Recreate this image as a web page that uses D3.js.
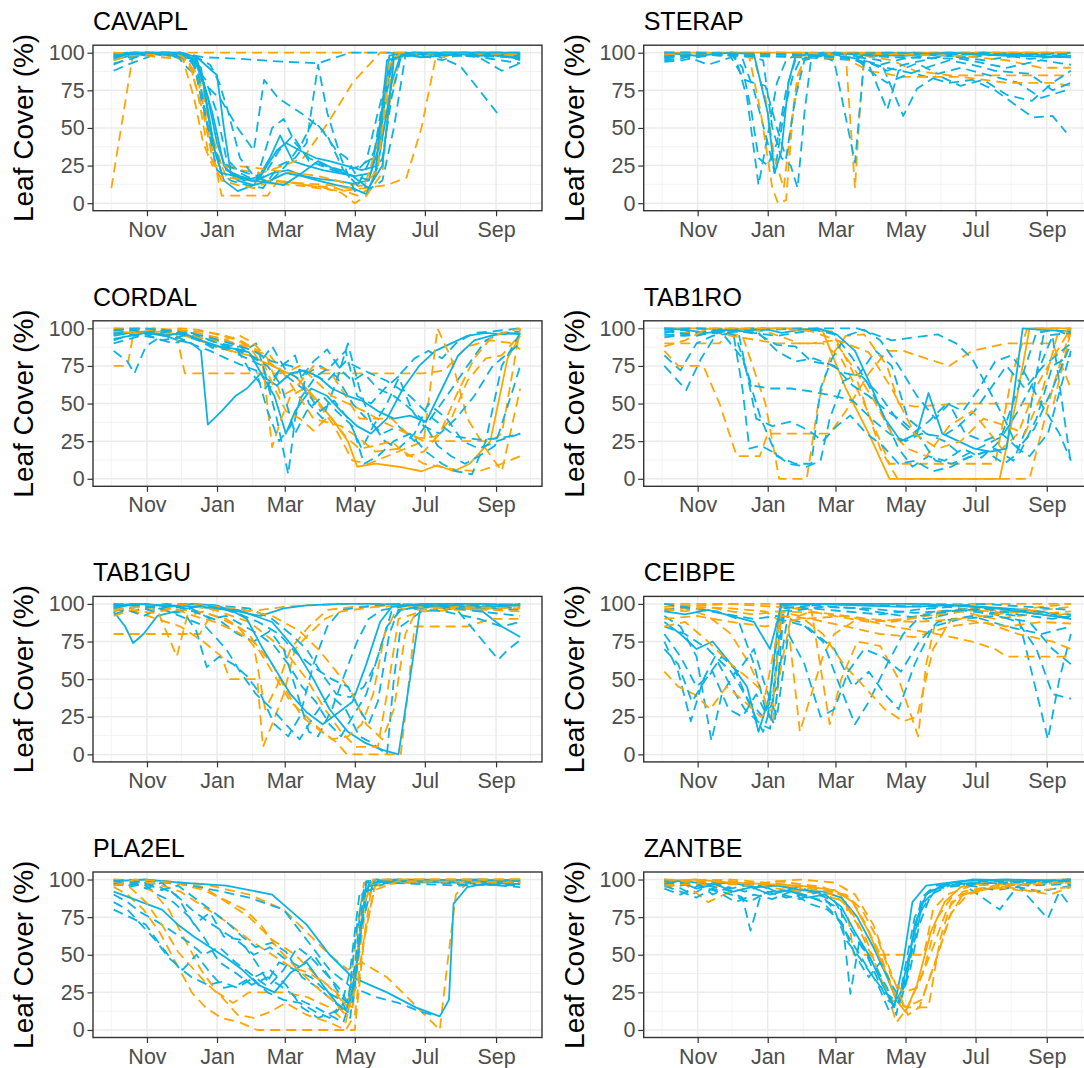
<!DOCTYPE html>
<meta charset="utf-8">
<style>
  body { margin: 0; background: #ffffff; }
  text { font-family: "Liberation Sans", Arial, Helvetica, sans-serif; }
  .title { font-size: 25px; fill: #000; }
  .ylab { font-size: 28px; fill: #000; }
  .tick text { font-size: 21.5px; fill: #4d4d4d; }
  .tick line { stroke: #333333; stroke-width: 1.2; }
  .grid-major { stroke: #ebebeb; stroke-width: 1.5; }
  .grid-minor { stroke: #f2f2f2; stroke-width: 0.9; }
  .border { fill: none; stroke: #333333; stroke-width: 1.4; }
  .leaf { fill: none; stroke-width: 1.8; stroke-linejoin: round; }
</style>
<body>
<script src="https://d3js.org/d3.v7.min.js"></script>
<script>
// day 0 = 1 Oct; each series: group (colour), line type, [day, leaf cover %]
var S = function(g, lt, pts) { return {g: g, lt: lt, pts: pts}; };

var species = ["CAVAPL", "STERAP", "CORDAL", "TAB1RO", "TAB1GU", "CEIBPE", "PLA2EL", "ZANTBE"];
var majorTicks = ["2018-11-01", "2019-01-01", "2019-03-01", "2019-05-01", "2019-07-01", "2019-09-01"];
var minorTicks = ["2018-10-01", "2018-12-01", "2019-02-01", "2019-04-01", "2019-06-01", "2019-08-01", "2019-10-01"];
var yTicks = [0, 25, 50, 75, 100];
var yMinor = [12.5, 37.5, 62.5, 87.5];

var cavapl = [
  S("A","solid",[[2,97],[16,100],[30,99],[45,100],[60,98],[74,95],[84,70],[92,40],[100,22],[112,18],[126,15],[140,20],[154,22],[168,18],[182,16],[196,15],[210,13],[224,15],[234,40],[242,98],[256,100],[280,99],[308,100],[336,98],[356,97]]),
  S("B","dash",[[0,10],[19,100],[60,100],[100,100],[160,100],[220,100],[268,100],[300,100],[356,100]]),
  S("A","solid",[[2,95],[16,98],[30,100],[45,98],[60,100],[74,97],[88,60],[98,25],[110,15],[124,12],[138,30],[147,45],[158,28],[170,25],[184,22],[198,20],[212,18],[226,20],[238,70],[246,100],[262,99],[290,100],[320,98],[356,99]]),
  S("B","dash",[[2,96],[16,99],[30,100],[50,98],[66,95],[76,80],[84,50],[92,20],[96,5],[110,5],[124,5],[136,5],[145,15],[170,12],[196,10],[214,5],[226,10],[240,60],[252,98],[270,100],[320,99],[356,100]]),
  S("A","dash",[[2,88],[14,92],[28,96],[42,100],[56,97],[70,94],[82,82],[92,60],[100,30],[112,20],[126,15],[140,50],[150,56],[160,40],[172,30],[186,25],[200,22],[214,24],[228,30],[240,85],[250,100],[270,97],[300,100],[330,96],[356,93]]),
  S("B","dash",[[2,98],[18,100],[40,97],[62,96],[72,70],[80,40],[88,25],[100,25],[120,24],[140,22],[160,20],[180,18],[196,15],[210,12],[222,15],[236,50],[246,97],[270,100],[356,99]]),
  S("A","dash",[[2,99],[20,100],[60,100],[80,97],[110,96],[150,94],[180,93],[208,100],[240,100],[300,99],[356,98]]),
  S("B","dash",[[2,99],[30,100],[60,99],[76,85],[86,50],[96,25],[112,22],[130,20],[150,25],[167,30],[190,55],[210,80],[234,100],[270,100],[356,99]]),
  S("A","dash",[[2,92],[16,97],[30,100],[56,99],[66,90],[74,85],[96,68],[110,50],[124,35],[133,82],[145,70],[165,60],[182,50],[196,35],[205,30],[212,20],[222,28],[232,60],[244,95],[256,100],[300,98],[356,97]]),
  S("B","dash",[[2,97],[20,100],[50,99],[70,96],[80,75],[90,35],[100,18],[120,15],[140,13],[160,12],[180,10],[200,8],[220,10],[240,12],[257,17],[270,50],[282,95],[300,100],[356,98]]),
  S("A","dash",[[2,100],[20,98],[44,100],[66,99],[76,85],[84,50],[92,22],[104,15],[118,12],[132,10],[146,25],[160,30],[170,40],[180,92],[188,60],[200,30],[212,8],[220,20],[232,40],[246,100],[280,99],[304,91],[337,59]]),
  S("A","solid",[[2,99],[14,100],[30,98],[50,100],[66,98],[78,90],[90,35],[98,15],[110,8],[124,12],[138,15],[152,20],[166,18],[180,15],[196,12],[210,10],[222,6],[230,20],[240,95],[256,98],[290,100],[340,100],[356,99]]),
  S("B","dash",[[2,95],[16,98],[40,99],[60,97],[70,88],[80,60],[88,30],[96,15],[110,12],[124,10],[140,15],[156,14],[170,12],[186,10],[200,7],[212,0],[222,5],[236,20],[246,95],[260,99],[300,100],[356,100]]),
  S("A","solid",[[2,96],[16,100],[36,100],[60,97],[76,96],[92,85],[98,50],[104,20],[116,15],[130,18],[144,35],[152,40],[164,35],[178,30],[190,28],[204,25],[218,22],[232,25],[244,80],[252,99],[270,97],[320,100],[356,96]]),
  S("A","dash",[[2,93],[14,95],[28,99],[44,100],[58,98],[72,93],[78,70],[86,45],[94,28],[104,24],[118,20],[132,17],[146,35],[158,45],[172,28],[186,24],[200,20],[212,18],[226,15],[236,30],[244,70],[252,97],[266,99],[288,95],[300,98],[330,100],[356,95]]),
  S("B","dash",[[2,100],[30,99],[56,100],[68,94],[76,70],[84,35],[94,18],[110,16],[130,15],[150,14],[170,13],[190,12],[206,10],[220,12],[232,22],[242,92],[252,100],[300,100],[356,99]]),
  S("A","dash",[[2,98],[20,100],[50,100],[70,99],[86,92],[94,80],[102,60],[112,30],[124,18],[138,14],[152,25],[166,40],[176,55],[188,45],[202,22],[214,12],[226,10],[236,15],[246,50],[256,98],[280,100],[320,97],[340,88],[356,93]]),
  S("A","solid",[[2,97],[16,99],[40,100],[60,100],[72,96],[80,80],[88,40],[96,20],[108,18],[122,15],[136,14],[150,12],[166,20],[180,28],[196,22],[210,18],[224,10],[236,25],[246,96],[262,100],[300,100],[356,100]])
];

var sterap = [
  S("B","solid",[[2,100],[60,100],[120,100],[200,100],[280,100],[356,100]]),
  S("A","dash",[[2,95],[16,96],[30,99],[50,100],[64,97],[74,70],[84,12],[92,45],[100,80],[108,95],[120,100],[150,99],[180,97],[200,100],[240,98],[280,100],[320,99],[356,100]]),
  S("A","dash",[[2,94],[18,95],[36,98],[56,100],[70,96],[80,75],[92,40],[98,20],[106,60],[114,85],[122,98],[140,100],[170,96],[190,92],[210,96],[240,99],[280,95],[310,98],[356,97]]),
  S("B","dash",[[2,100],[30,99],[60,100],[76,97],[86,60],[96,10],[101,0],[108,2],[114,60],[122,95],[140,100],[200,100],[260,100],[356,100]]),
  S("A","dash",[[2,99],[20,100],[50,98],[70,99],[88,95],[96,50],[104,30],[112,25],[118,10],[124,60],[130,97],[150,100],[180,98],[220,100],[260,97],[300,99],[356,98]]),
  S("B","dash",[[2,98],[30,100],[64,99],[80,96],[90,70],[98,30],[106,10],[112,50],[118,85],[126,99],[160,100],[200,99],[240,100],[300,100],[356,100]]),
  S("A","solid",[[2,100],[30,98],[60,100],[80,99],[92,60],[98,20],[104,35],[110,80],[116,97],[130,100],[170,99],[210,98],[250,100],[300,98],[356,97]]),
  S("B","dash",[[2,100],[40,100],[80,99],[100,100],[140,99],[160,98],[168,10],[172,60],[176,98],[200,95],[220,88],[250,85],[290,85],[320,85],[356,85]]),
  S("A","dash",[[2,98],[30,97],[60,100],[100,99],[140,98],[150,94],[168,27],[176,95],[196,88],[210,92],[240,97],[280,100],[320,96],[356,98]]),
  S("A","dash",[[2,97],[30,100],[60,98],[120,97],[170,95],[196,90],[220,86],[250,80],[270,82],[290,75],[323,57],[340,58],[352,47]]),
  S("A","dash",[[2,99],[30,98],[100,100],[160,97],[180,92],[196,62],[206,88],[222,93],[240,86],[260,90],[290,84],[310,80],[330,70],[356,76]]),
  S("A","dash",[[2,100],[40,99],[100,98],[170,97],[190,95],[210,58],[222,76],[240,85],[260,78],[280,82],[300,72],[322,68],[340,80],[356,88]]),
  S("B","dash",[[2,100],[60,100],[120,98],[160,96],[180,88],[210,84],[260,84],[300,80],[340,80],[356,78]]),
  S("B","dash",[[2,99],[60,100],[120,100],[200,99],[260,98],[300,95],[330,90],[356,90]]),
  S("A","dash",[[2,96],[20,98],[40,92],[60,97],[72,82],[80,80],[90,78],[100,50],[108,30],[116,70],[124,95],[150,100],[200,97],[260,96],[300,90],[330,95],[356,92]]),
  S("A","dash",[[2,100],[30,100],[60,99],[70,90],[78,60],[84,30],[92,25],[100,40],[108,75],[116,95],[140,99],[200,100],[260,99],[356,99]]),
  S("A","dash",[[2,97],[40,100],[100,99],[150,97],[170,95],[186,85],[196,80],[212,85],[230,90],[250,95],[270,92],[290,88],[320,86],[340,75],[356,80]])
];

var cordal = [
  S("A","solid",[[2,95],[16,97],[30,98],[44,96],[58,92],[70,90],[78,85],[84,36],[96,45],[108,55],[118,60],[130,70],[142,55],[152,30],[160,45],[174,60],[188,55],[200,45],[214,35],[226,30],[240,40],[254,60],[268,75],[282,85],[296,90],[310,95],[326,97],[340,96],[356,97]]),
  S("B","dash",[[2,75],[14,75],[20,100],[40,99],[56,98],[64,70],[100,70],[140,70],[180,70],[220,70],[271,70],[290,72],[310,88],[330,92],[350,90],[356,86]]),
  S("A","dash",[[2,85],[14,78],[20,70],[30,88],[44,95],[60,97],[76,93],[90,88],[104,85],[118,80],[132,75],[144,40],[154,3],[160,40],[170,70],[182,75],[196,68],[210,50],[222,40],[236,30],[250,35],[264,25],[278,40],[292,55],[310,75],[326,92],[340,97],[356,98]]),
  S("B","dash",[[2,99],[20,100],[40,98],[60,100],[76,99],[92,96],[106,93],[120,88],[132,75],[140,21],[148,40],[156,55],[168,60],[180,50],[194,35],[210,12],[224,10],[240,15],[256,20],[272,25],[284,100],[296,80],[310,40],[326,20],[340,5],[356,60]]),
  S("B","solid",[[2,98],[20,97],[44,98],[64,95],[84,90],[104,85],[120,82],[140,75],[160,68],[176,55],[192,40],[206,25],[214,8],[230,10],[250,8],[270,5],[284,9],[298,5],[312,10],[330,25],[345,80],[356,95]]),
  S("A","dash",[[2,92],[18,96],[36,94],[54,90],[72,94],[88,87],[102,88],[114,84],[126,90],[138,60],[148,75],[160,82],[172,50],[184,40],[196,65],[206,90],[216,60],[226,38],[238,25],[250,20],[264,30],[276,50],[292,40],[306,25],[320,20],[336,25],[356,30]]),
  S("A","dash",[[2,98],[16,100],[30,97],[46,99],[62,96],[78,94],[94,90],[108,88],[122,70],[134,60],[146,72],[158,65],[170,58],[182,45],[194,52],[206,40],[218,20],[228,35],[240,50],[252,70],[264,80],[276,85],[288,80],[300,90],[316,97],[332,98],[356,100]]),
  S("B","dash",[[2,100],[20,99],[40,100],[60,97],[80,95],[96,92],[112,95],[124,90],[136,80],[148,55],[160,60],[176,75],[190,72],[204,55],[216,40],[230,40],[244,40],[258,30],[272,25],[290,25],[310,25],[330,25],[340,30],[356,100]]),
  S("A","dash",[[2,90],[16,93],[30,96],[44,92],[58,94],[72,89],[86,85],[100,80],[112,76],[126,72],[136,45],[146,25],[156,35],[166,55],[178,68],[190,74],[204,85],[214,55],[226,50],[238,60],[250,68],[262,45],[272,35],[286,30],[300,40],[316,55],[332,75],[348,85],[356,90]]),
  S("B","dash",[[2,96],[18,98],[36,100],[56,99],[74,97],[92,94],[108,90],[124,85],[138,82],[150,70],[164,75],[178,65],[192,55],[206,50],[220,45],[236,38],[252,32],[268,27],[282,28],[296,40],[310,65],[326,80],[340,82],[356,96]]),
  S("B","dash",[[2,98],[30,97],[60,96],[90,92],[120,88],[150,70],[176,40],[200,35],[214,28],[230,18],[250,20],[272,10],[300,6],[320,5],[340,10],[356,15]]),
  S("A","solid",[[2,93],[16,95],[30,97],[46,95],[62,97],[78,92],[94,88],[110,86],[120,84],[132,68],[144,62],[156,70],[168,72],[180,68],[192,60],[206,55],[218,52],[232,45],[246,40],[260,42],[274,38],[288,60],[302,82],[316,92],[330,95],[344,97],[356,96]]),
  S("A","dash",[[2,97],[20,95],[38,98],[54,93],[70,97],[86,92],[100,88],[116,85],[130,78],[140,88],[152,72],[164,66],[176,78],[188,86],[200,72],[210,65],[220,70],[232,60],[246,55],[258,48],[270,40],[284,22],[296,15],[308,10],[320,15],[334,22],[350,60],[356,75]]),
  S("B","dash",[[2,100],[24,100],[50,99],[76,98],[96,96],[112,92],[128,85],[142,60],[152,45],[164,40],[176,32],[190,42],[204,28],[216,20],[230,22],[244,25],[258,15],[272,18],[286,30],[300,55],[316,80],[332,95],[356,100]]),
  S("A","dash",[[2,96],[18,99],[34,96],[50,98],[66,95],[82,90],[98,86],[112,88],[124,80],[136,75],[148,62],[160,30],[170,45],[184,55],[196,45],[210,35],[220,10],[232,15],[246,25],[260,30],[274,18],[288,10],[300,5],[314,3],[326,25],[340,75],[356,97]]),
  S("A","dash",[[2,99],[30,100],[56,98],[80,95],[104,90],[124,85],[140,78],[156,75],[172,70],[188,65],[204,78],[220,72],[240,65],[260,55],[280,40],[300,28],[320,26],[340,27],[356,30]])
];

var tab1ro = [
  S("B","solid",[[2,100],[30,100],[60,99],[90,100],[120,100],[140,98],[160,60],[180,30],[198,0],[230,0],[260,0],[294,0],[308,50],[320,100],[340,100],[356,100]]),
  S("B","dash",[[2,100],[40,100],[80,100],[120,100],[148,98],[170,65],[190,20],[205,0],[240,0],[285,0],[300,0],[320,0],[340,60],[356,100]]),
  S("A","dash",[[2,75],[21,59],[34,80],[48,97],[64,99],[80,97],[100,95],[116,97],[134,99],[150,96],[166,80],[180,62],[194,40],[206,20],[218,8],[232,15],[246,12],[262,20],[278,14],[294,25],[310,60],[326,97],[342,99],[356,95]]),
  S("B","dash",[[2,90],[20,90],[50,90],[60,100],[90,98],[120,90],[140,90],[156,80],[176,50],[190,25],[198,10],[210,10],[250,10],[290,10],[305,70],[318,100],[356,100]]),
  S("B","dash",[[2,85],[14,75],[36,75],[50,50],[65,15],[85,15],[92,30],[146,30],[160,45],[180,70],[196,85],[210,85],[250,75],[270,85],[300,90],[340,90],[356,60]]),
  S("A","dash",[[2,82],[16,72],[30,90],[44,95],[62,97],[70,60],[76,20],[86,22],[96,18],[110,10],[126,8],[138,12],[146,40],[158,65],[172,70],[186,85],[200,75],[214,40],[230,30],[246,25],[262,15],[280,22],[296,28],[310,45],[324,65],[340,95],[356,10]]),
  S("B","dash",[[2,95],[20,97],[50,98],[70,95],[90,50],[102,0],[126,0],[136,50],[146,80],[160,95],[176,96],[196,75],[206,50],[220,48],[260,50],[300,50],[341,50],[356,98]]),
  S("A","dash",[[2,97],[18,99],[34,96],[52,98],[64,95],[78,62],[94,60],[112,60],[130,58],[150,55],[166,52],[182,40],[198,30],[212,25],[226,30],[244,28],[258,35],[272,45],[286,60],[300,75],[316,60],[332,75],[356,90]]),
  S("B","dash",[[2,100],[30,100],[60,95],[100,90],[130,90],[150,92],[170,70],[186,50],[200,30],[214,20],[230,15],[250,35],[270,45],[296,20],[310,30],[325,60],[340,80],[356,100]]),
  S("A","dash",[[2,98],[16,97],[30,95],[50,99],[68,98],[84,96],[100,89],[116,88],[130,78],[146,76],[160,70],[174,68],[190,55],[204,40],[218,30],[232,38],[248,50],[262,45],[276,60],[290,78],[304,82],[316,70],[330,50],[346,30],[356,12]]),
  S("A","solid",[[2,100],[20,99],[40,97],[56,99],[72,98],[88,100],[104,97],[120,99],[136,100],[152,96],[168,85],[180,65],[194,40],[208,25],[222,30],[232,57],[244,30],[258,25],[272,20],[286,18],[300,20],[314,100],[330,99],[356,98]]),
  S("A","dash",[[2,99],[30,100],[60,99],[80,100],[100,85],[116,78],[132,80],[150,75],[166,62],[180,55],[196,45],[210,38],[224,28],[238,12],[252,10],[270,15],[290,20],[306,12],[318,35],[332,95],[356,97]]),
  S("A","dash",[[2,96],[20,95],[50,97],[90,99],[130,100],[170,100],[200,92],[220,94],[240,96],[256,90],[270,80],[284,60],[298,40],[310,20],[320,15],[336,30],[356,85]]),
  S("A","dash",[[2,100],[20,96],[40,98],[66,99],[82,40],[96,35],[112,38],[128,32],[140,25],[152,35],[164,42],[178,30],[192,22],[206,10],[220,12],[236,5],[252,8],[266,14],[282,18],[298,10],[312,18],[326,40],[340,75],[356,82]]),
  S("A","dash",[[2,94],[24,96],[50,99],[70,80],[86,40],[100,15],[116,10],[130,10],[138,60],[148,80],[160,95],[176,99],[190,92],[206,75],[222,55],[238,40],[250,50],[264,30],[280,25],[296,30],[310,20],[324,33],[340,60],[356,90]]),
  S("B","dash",[[2,88],[20,92],[40,100],[70,100],[100,100],[130,98],[160,90],[180,84],[200,60],[220,30],[240,20],[260,25],[280,40],[300,35],[316,30],[330,55],[344,95],[356,100]])
];

var tab1gu = [
  S("B","dash",[[2,80],[30,80],[60,80],[77,80],[90,97],[110,95],[130,96],[150,98],[170,99],[200,100],[240,100],[280,100],[320,100],[356,100]]),
  S("A","solid",[[2,95],[12,85],[19,74],[28,80],[40,92],[56,95],[72,98],[90,97],[110,95],[130,92],[150,97],[170,99],[200,100],[230,100],[260,99],[290,98],[320,97],[340,85],[356,78]]),
  S("B","dash",[[2,95],[20,98],[40,96],[57,65],[66,92],[80,95],[96,90],[110,85],[124,72],[134,30],[144,45],[156,70],[172,85],[188,96],[210,98],[240,99],[280,100],[356,100]]),
  S("A","dash",[[2,100],[16,97],[30,99],[46,96],[60,98],[74,82],[83,58],[94,65],[106,60],[118,52],[130,40],[142,20],[154,12],[164,25],[176,60],[188,85],[200,96],[220,98],[250,100],[290,97],[320,96],[356,100]]),
  S("B","dash",[[2,96],[20,95],[40,90],[60,85],[80,75],[96,65],[103,50],[127,50],[132,5],[140,20],[150,40],[160,70],[172,80],[186,90],[200,95],[230,98],[270,99],[356,99]]),
  S("B","dash",[[2,98],[24,100],[50,97],[76,95],[100,90],[120,80],[140,55],[156,35],[170,25],[184,15],[196,8],[205,0],[230,0],[252,0],[258,40],[264,85],[310,85],[330,90],[356,90]]),
  S("A","solid",[[2,99],[20,100],[50,99],[80,98],[110,96],[140,88],[160,70],[176,50],[190,30],[206,15],[220,8],[236,3],[250,0],[260,50],[269,97],[290,99],[320,98],[356,99]]),
  S("A","dash",[[2,97],[18,95],[34,98],[50,95],[66,90],[82,85],[100,70],[112,55],[126,40],[140,30],[152,20],[164,10],[176,25],[190,40],[204,30],[216,12],[226,8],[240,0],[246,50],[252,85],[270,95],[300,97],[337,63],[346,70],[356,76]]),
  S("B","dash",[[2,100],[30,99],[60,100],[90,96],[120,88],[150,70],[170,50],[186,30],[200,15],[213,5],[232,5],[240,40],[250,90],[270,95],[300,96],[356,98]]),
  S("A","dash",[[2,93],[14,96],[28,92],[42,97],[56,94],[70,97],[86,90],[100,92],[114,86],[128,80],[142,72],[154,60],[166,45],[178,35],[190,20],[200,12],[210,25],[222,40],[234,70],[244,95],[260,97],[290,95],[320,90],[340,85],[356,88]]),
  S("A","dash",[[2,98],[20,99],[36,95],[52,99],[68,96],[82,92],[96,88],[110,80],[124,75],[138,82],[150,70],[162,40],[172,15],[180,12],[192,30],[204,55],[214,75],[224,90],[236,96],[260,99],[300,98],[356,96]]),
  S("B","dash",[[2,92],[18,96],[36,94],[54,97],[72,92],[90,88],[108,82],[124,75],[140,60],[154,40],[166,25],[178,18],[192,10],[206,12],[218,20],[228,40],[238,80],[248,96],[270,98],[300,97],[356,95]]),
  S("A","dash",[[2,100],[30,99],[60,100],[90,99],[120,97],[140,90],[156,80],[170,70],[182,55],[196,40],[208,38],[220,45],[230,60],[240,85],[252,96],[280,100],[320,99],[356,97]]),
  S("A","solid",[[2,97],[14,99],[30,100],[50,98],[70,100],[90,99],[104,96],[118,90],[132,70],[144,55],[156,40],[170,28],[184,20],[198,28],[210,35],[222,60],[234,88],[244,98],[270,100],[320,100],[356,99]]),
  S("B","dash",[[2,96],[24,98],[50,100],[80,99],[110,97],[140,92],[164,82],[180,70],[196,55],[210,40],[222,20],[236,10],[246,30],[256,80],[266,96],[300,98],[356,97]]),
  S("A","dash",[[2,99],[16,100],[32,98],[48,100],[64,97],[80,99],[96,97],[112,93],[128,88],[146,80],[160,68],[176,58],[192,50],[206,45],[216,30],[224,20],[232,35],[242,80],[250,96],[280,99],[320,95],[356,92]])
];

var ceibpe = [
  S("B","dash",[[2,100],[60,100],[120,100],[180,100],[240,100],[300,100],[356,100]]),
  S("A","solid",[[2,88],[16,80],[30,70],[44,75],[60,60],[74,45],[84,15],[94,40],[103,100],[140,100],[180,100],[220,100],[260,99],[300,97],[330,95],[356,90]]),
  S("A","dash",[[2,75],[14,55],[25,22],[36,50],[46,65],[60,45],[72,30],[86,20],[94,17],[100,60],[106,98],[130,97],[160,95],[190,93],[220,96],[250,98],[280,95],[310,92],[336,10],[346,50],[356,80]]),
  S("B","dash",[[2,95],[20,97],[40,92],[60,80],[76,60],[88,40],[96,20],[104,60],[112,90],[130,95],[150,92],[180,88],[210,90],[240,95],[270,97],[300,95],[330,98],[356,100]]),
  S("A","dash",[[2,92],[16,85],[30,65],[43,9],[52,40],[64,55],[78,30],[88,15],[96,35],[104,95],[130,99],[170,97],[200,93],[230,90],[260,95],[290,97],[320,95],[356,93]]),
  S("B","dash",[[2,100],[30,98],[60,97],[90,95],[110,85],[120,15],[130,40],[140,65],[150,80],[170,90],[200,88],[230,92],[260,95],[290,90],[320,93],[356,95]]),
  S("B","dash",[[2,98],[30,99],[60,100],[100,98],[130,96],[146,20],[156,50],[170,75],[190,72],[206,50],[223,12],[230,60],[240,95],[270,96],[300,94],[330,96],[356,98]]),
  S("A","dash",[[2,96],[20,98],[50,94],[80,90],[100,92],[120,88],[140,75],[155,45],[168,20],[180,35],[196,60],[210,80],[225,92],[250,95],[280,97],[310,93],[340,90],[356,92]]),
  S("B","dash",[[2,90],[30,92],[60,88],[90,85],[120,90],[160,92],[200,85],[240,80],[270,75],[290,70],[300,65],[330,65],[356,65]]),
  S("A","dash",[[2,85],[20,80],[40,70],[60,55],[76,35],[88,25],[100,45],[110,95],[140,98],[180,97],[220,94],[260,96],[290,93],[310,88],[326,70],[340,40],[356,37]]),
  S("A","dash",[[2,100],[24,97],[48,95],[66,90],[80,60],[90,30],[98,20],[106,97],[140,100],[190,99],[240,98],[280,100],[320,98],[356,96]]),
  S("B","dash",[[2,55],[14,45],[28,40],[42,30],[56,45],[72,35],[86,25],[96,30],[104,92],[130,90],[160,85],[190,80],[220,78],[250,85],[280,88],[310,80],[340,75],[356,70]]),
  S("A","dash",[[2,80],[16,65],[30,45],[44,55],[58,30],[70,25],[82,40],[92,25],[102,90],[126,85],[150,70],[166,45],[180,55],[194,40],[206,30],[220,60],[236,85],[260,90],[290,92],[320,88],[340,70],[356,60]]),
  S("B","dash",[[2,97],[20,95],[40,98],[60,95],[80,93],[100,95],[120,92],[140,80],[158,60],[176,45],[194,30],[210,22],[222,25],[236,70],[252,90],[280,92],[310,95],[340,92],[356,94]]),
  S("A","solid",[[2,95],[20,93],[40,96],[60,92],[80,88],[94,70],[104,99],[130,100],[170,99],[210,98],[250,99],[290,97],[330,93],[356,90]]),
  S("A","dash",[[2,70],[14,60],[26,35],[38,50],[52,65],[66,55],[80,70],[90,45],[100,25],[110,80],[124,60],[138,25],[150,30],[162,55],[176,70],[192,65],[208,55],[224,75],[240,88],[270,92],[300,85],[330,80],[356,85]]),
  S("B","dash",[[2,85],[20,88],[40,75],[60,60],[76,50],[90,40],[104,95],[140,94],[180,90],[220,88],[260,90],[300,85],[330,88],[356,87]])
];

var pla2el = [
  S("B","dash",[[2,95],[14,90],[28,80],[42,65],[56,45],[70,25],[82,15],[96,8],[112,5],[127,0],[150,0],[180,0],[200,0],[212,0],[220,60],[230,98],[260,100],[300,100],[356,100]]),
  S("A","dash",[[2,98],[14,95],[28,97],[40,90],[54,85],[68,75],[82,60],[94,45],[108,38],[122,30],[136,35],[150,28],[164,20],[178,15],[190,10],[202,5],[210,25],[218,90],[230,100],[270,99],[310,98],[356,97]]),
  S("B","dash",[[2,100],[20,98],[36,92],[50,80],[64,60],[78,40],[92,25],[106,18],[120,25],[134,25],[150,25],[170,22],[190,15],[204,5],[214,40],[224,95],[250,98],[300,99],[356,98]]),
  S("A","dash",[[2,90],[14,85],[26,78],[40,72],[54,65],[68,58],[80,50],[94,55],[108,45],[120,38],[134,30],[146,45],[160,40],[174,35],[188,25],[200,20],[208,8],[216,60],[224,97],[250,100],[300,99],[356,98]]),
  S("A","dash",[[2,80],[16,75],[30,70],[44,55],[58,42],[70,35],[84,30],[96,32],[110,28],[124,35],[138,40],[152,30],[166,15],[180,8],[194,12],[206,20],[214,50],[222,96],[240,100],[300,98],[356,95]]),
  S("B","dash",[[2,97],[30,100],[60,98],[80,95],[100,85],[120,75],[140,60],[160,50],[180,35],[196,25],[206,15],[212,55],[220,98],[260,100],[356,99]]),
  S("A","solid",[[2,92],[16,88],[30,84],[44,80],[58,70],[72,62],[86,55],[100,48],[114,40],[128,30],[142,25],[156,38],[170,45],[184,30],[196,18],[206,12],[214,45],[222,98],[260,99],[320,100],[356,99]]),
  S("B","dash",[[2,100],[40,99],[80,97],[120,90],[150,80],[170,65],[190,50],[206,40],[218,45],[240,35],[260,20],[286,0],[292,40],[300,90],[310,98],[356,100]]),
  S("A","dash",[[2,96],[30,99],[60,97],[90,93],[120,88],[150,80],[170,60],[190,40],[208,29],[230,22],[250,18],[270,12],[284,9]]),
  S("A","solid",[[2,99],[30,100],[60,98],[100,96],[140,90],[170,70],[190,50],[210,35],[240,25],[265,15],[286,9],[294,20],[298,84],[310,95],[330,98],[356,97]]),
  S("B","dash",[[2,98],[16,95],[30,85],[44,70],[58,52],[72,40],[84,30],[96,22],[110,10],[124,8],[138,12],[152,18],[170,10],[190,5],[204,0],[212,10],[220,60],[230,97],[270,98],[356,100]]),
  S("A","dash",[[2,100],[14,96],[28,98],[42,95],[56,90],[70,80],[84,72],[98,65],[112,58],[124,50],[138,55],[150,48],[164,42],[176,50],[190,35],[200,22],[210,15],[218,70],[228,98],[270,100],[320,99],[356,100]]),
  S("A","dash",[[2,97],[16,99],[30,94],[44,98],[58,88],[72,70],[86,78],[98,62],[112,60],[126,45],[138,30],[150,40],[162,55],[174,48],[186,38],[198,28],[206,18],[214,70],[222,99],[250,100],[300,97],[356,96]]),
  S("B","dash",[[2,100],[20,99],[40,97],[60,92],[80,82],[100,72],[120,60],[140,50],[156,42],[172,38],[188,30],[200,20],[210,15],[218,80],[228,100],[300,100],[356,100]]),
  S("A","dash",[[2,99],[16,100],[30,97],[44,93],[58,96],[72,88],[86,80],[100,72],[114,62],[126,55],[140,58],[152,52],[166,35],[180,28],[192,20],[204,12],[212,30],[220,95],[250,99],[290,98],[356,99]]),
  S("A","dash",[[2,85],[14,80],[26,70],[38,60],[50,48],[62,40],[74,50],[86,38],[98,28],[110,30],[122,35],[136,25],[150,20],[164,18],[178,12],[190,8],[200,15],[208,40],[216,90],[240,98],[300,96],[356,97]]),
  S("B","dash",[[2,96],[20,100],[40,99],[60,97],[80,93],[100,86],[116,80],[130,70],[144,55],[160,42],[176,30],[192,20],[204,10],[214,30],[226,92],[250,99],[356,98]])
];

var zantbe = [
  S("B","dash",[[2,100],[20,98],[40,95],[60,97],[80,96],[100,99],[120,97],[140,95],[155,90],[170,70],[185,45],[198,20],[204,5],[214,15],[228,40],[240,75],[252,88],[270,92],[300,95],[338,90],[356,95]]),
  S("A","dash",[[2,98],[14,95],[26,90],[40,96],[56,93],[70,88],[77,66],[86,90],[100,93],[116,92],[130,88],[144,85],[156,80],[164,24],[172,60],[184,40],[196,20],[206,15],[214,40],[226,80],[240,95],[260,98],[294,80],[310,96],[336,74],[346,92],[356,82]]),
  S("B","dash",[[2,95],[20,97],[40,85],[60,92],[80,95],[100,96],[120,94],[140,90],[160,85],[167,50],[228,50],[236,80],[248,90],[270,96],[300,97],[330,98],[356,100]]),
  S("A","solid",[[2,100],[20,99],[40,97],[60,98],[80,95],[100,96],[120,93],[140,92],[156,88],[170,75],[184,55],[196,35],[204,20],[212,30],[220,70],[230,90],[246,97],[270,100],[320,99],[356,100]]),
  S("B","solid",[[2,99],[30,100],[60,98],[90,97],[120,96],[150,93],[166,85],[180,65],[194,40],[204,20],[212,12],[222,30],[234,65],[246,85],[260,95],[290,99],[356,100]]),
  S("B","dash",[[2,97],[30,96],[60,99],[90,95],[120,92],[150,90],[164,80],[178,60],[190,35],[200,20],[213,15],[232,15],[242,60],[252,85],[268,92],[300,96],[356,98]]),
  S("A","dash",[[2,96],[16,92],[30,88],[44,94],[60,90],[76,85],[92,92],[108,88],[124,90],[140,85],[152,75],[164,60],[176,45],[188,30],[198,12],[208,25],[218,60],[228,85],[240,94],[270,97],[300,98],[330,99],[356,100]]),
  S("A","dash",[[2,100],[20,97],[40,99],[60,94],[80,97],[100,92],[120,95],[136,90],[150,86],[162,70],[174,55],[186,42],[196,28],[204,10],[210,35],[220,75],[232,92],[250,97],[280,98],[320,96],[356,97]]),
  S("B","dash",[[2,98],[20,99],[40,100],[70,98],[100,97],[130,95],[150,92],[164,88],[176,72],[190,50],[202,25],[212,15],[226,20],[240,50],[252,78],[266,90],[290,95],[330,97],[356,98]]),
  S("A","solid",[[2,97],[14,99],[30,94],[46,97],[62,92],[78,95],[94,90],[110,93],[126,88],[142,90],[156,82],[168,65],[180,50],[192,30],[202,15],[210,45],[218,85],[230,96],[260,99],[300,100],[356,99]]),
  S("A","dash",[[2,99],[16,96],[30,98],[44,90],[58,95],[72,92],[88,96],[104,90],[120,87],[136,92],[150,80],[160,60],[172,48],[184,35],[194,25],[206,18],[216,50],[226,88],[238,96],[260,97],[290,93],[310,95],[330,92],[356,96]]),
  S("B","dash",[[2,96],[24,97],[48,99],[72,96],[96,98],[120,95],[144,92],[160,90],[174,80],[188,60],[200,35],[210,25],[222,28],[236,55],[248,80],[262,92],[290,96],[330,98],[356,98]]),
  S("A","dash",[[2,94],[16,90],[32,96],[48,92],[64,85],[80,90],[96,87],[112,92],[128,84],[144,80],[156,72],[168,50],[180,35],[190,45],[200,30],[208,20],[216,40],[224,70],[234,90],[250,96],[280,99],[320,98],[356,99]]),
  S("B","dash",[[2,100],[30,99],[60,100],[90,98],[120,100],[150,98],[168,90],[184,70],[196,45],[206,25],[214,10],[224,15],[238,45],[250,75],[262,90],[290,95],[320,92],[356,95]])
];

var panelData = [cavapl, sterap, cordal, tab1ro, tab1gu, ceibpe, pla2el, zantbe];

// ---- layout ----
var W = 1084, H = 1068;
var colLeft = [93, 643.7];
var rowTop = [45.2, 320.8, 596.4, 872.0];
var pw = 449, ph = 165.5;

var start = new Date(2018, 9, 1);
var parse = d3.timeParse("%Y-%m-%d");
var fmt = d3.timeFormat("%b");

var x = d3.scaleTime()
    .domain([new Date(2018, 8, 15), new Date(2019, 9, 11)])
    .range([0, pw]);
var y = d3.scaleLinear().domain([-5, 105]).range([ph, 0]);

var colour = d3.scaleOrdinal().domain(["A", "B"]).range(["#0ab3e4", "#ffa500"]);
var dashes = d3.scaleOrdinal().domain(["solid", "dash"]).range(["none", "10,6"]);

var line = d3.line()
    .x(function(d) { return x(d3.timeDay.offset(start, d[0])); })
    .y(function(d) { return y(d[1]); });

var svg = d3.select("body").append("svg")
    .attr("width", W)
    .attr("height", H);

species.forEach(function(name, i) {
  var col = i % 2, row = Math.floor(i / 2);
  var g = svg.append("g")
      .attr("transform", "translate(" + colLeft[col] + "," + rowTop[row] + ")");

  // grid
  g.selectAll(".gmx").data(minorTicks.map(parse)).enter().append("line")
      .attr("class", "grid-minor")
      .attr("x1", x).attr("x2", x).attr("y1", 0).attr("y2", ph);
  g.selectAll(".gmy").data(yMinor).enter().append("line")
      .attr("class", "grid-minor")
      .attr("x1", 0).attr("x2", pw).attr("y1", y).attr("y2", y);
  g.selectAll(".gx").data(majorTicks.map(parse)).enter().append("line")
      .attr("class", "grid-major")
      .attr("x1", x).attr("x2", x).attr("y1", 0).attr("y2", ph);
  g.selectAll(".gy").data(yTicks).enter().append("line")
      .attr("class", "grid-major")
      .attr("x1", 0).attr("x2", pw).attr("y1", y).attr("y2", y);

  // series
  g.selectAll(".leaf").data(panelData[i]).enter().append("path")
      .attr("class", "leaf")
      .attr("d", function(d) { return line(d.pts); })
      .style("stroke", function(d) { return colour(d.g); })
      .style("stroke-dasharray", function(d) { return dashes(d.lt); });

  g.append("rect")
      .attr("class", "border")
      .attr("width", pw)
      .attr("height", ph);

  // axes
  var ax = g.append("g")
      .attr("transform", "translate(0," + ph + ")")
      .call(d3.axisBottom(x).tickValues(majorTicks.map(parse)).tickFormat(fmt)
        .tickSize(5.5).tickPadding(5.4));
  ax.select(".domain").remove();

  var ay = g.append("g")
      .call(d3.axisLeft(y).tickValues(yTicks).tickSize(5.5).tickPadding(2.8));
  ay.select(".domain").remove();

  g.append("text")
      .attr("class", "title")
      .attr("x", 0)
      .attr("y", -15)
      .text(name);

  g.append("text")
      .attr("class", "ylab")
      .attr("text-anchor", "middle")
      .attr("transform", "translate(-60," + (ph / 2) + ") rotate(-90)")
      .text("Leaf Cover (%)");
});
</script>
</body>
</html>
